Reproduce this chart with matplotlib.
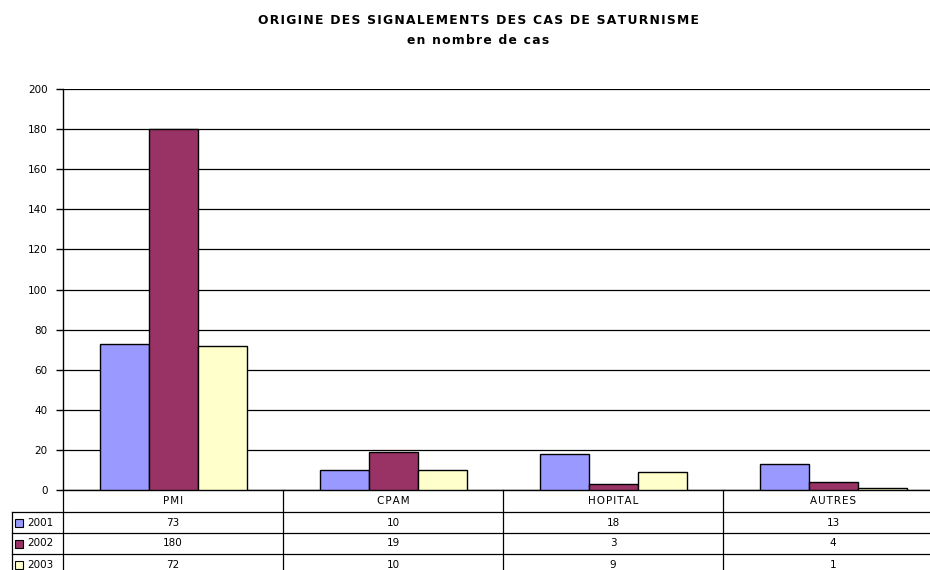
import matplotlib
matplotlib.use("Agg")
import matplotlib.pyplot as plt
from matplotlib.patches import Rectangle
from matplotlib.lines import Line2D
import numpy as np

categories = ["PMI", "CPAM", "HOPITAL", "AUTRES"]
series_names = ["2001", "2002", "2003"]
v2001 = [73, 10, 18, 13]
v2002 = [180, 19, 3, 4]
v2003 = [72, 10, 9, 1]
colors = ["#9999FF", "#993366", "#FFFFCC"]
yticks = [0, 20, 40, 60, 80, 100, 120, 140, 160, 180, 200]

W, H = 930, 570
plt.rcParams['font.family'] = ['DejaVu Sans']
fig = plt.figure(figsize=(W / 100, H / 100), dpi=100)

def fx(px):
    return px / W

def fy(py):
    return 1 - py / H

def spaced(s):
    return "\u200a".join(s)

left, right, top, bottom = 63, 943, 89, 490
ax = fig.add_axes([fx(left), fy(bottom), fx(right) - fx(left), fy(top) - fy(bottom)])

values = [v2001, v2002, v2003]
n = len(categories)
x = np.arange(n)
bw = 49 / 220
for i, (vals, c) in enumerate(zip(values, colors)):
    ax.bar(x + (i - 1) * bw, vals, width=bw, color=c, edgecolor="black", linewidth=1.0, zorder=3)

ax.set_xlim(-0.5, n - 0.5)
ax.set_ylim(0, 200)
ax.set_yticks(yticks)
ax.set_yticklabels([str(t) for t in yticks], fontsize=7.5)
ax.tick_params(axis='y', length=5, width=1, pad=6, direction='out')
ax.set_xticks([])
ax.yaxis.grid(True, color="black", linewidth=0.9, zorder=0)
ax.set_axisbelow(True)
for s in ["top", "right"]:
    ax.spines[s].set_visible(False)
ax.spines["left"].set_linewidth(1)
ax.spines["bottom"].set_linewidth(1)

# Title
fig.text(fx(478), fy(20), spaced("ORIGINE DES SIGNALEMENTS DES CAS DE SATURNISME"), ha="center", va="center",
         fontsize=8.9, fontweight="bold")
fig.text(fx(478), fy(41), spaced("en nombre de cas"), ha="center", va="center", fontsize=8.9, fontweight="bold")

# Data table
rows_y = [490, 512, 533, 554, 575]
col_x = [left + 220 * k for k in range(n + 1)]
legend_left = 12
lw = 0.9
for yy in rows_y[1:]:
    fig.add_artist(Line2D([fx(legend_left), fx(right)], [fy(yy), fy(yy)], color="black", lw=lw))
for xx in col_x:
    fig.add_artist(Line2D([fx(xx), fx(xx)], [fy(490), fy(575)], color="black", lw=lw))
fig.add_artist(Line2D([fx(legend_left), fx(legend_left)], [fy(512), fy(575)], color="black", lw=lw))

for k, cat in enumerate(categories):
    cx = (col_x[k] + col_x[k + 1]) / 2
    fig.text(fx(cx), fy((rows_y[0] + rows_y[1]) / 2), spaced(cat), ha="center", va="center", fontsize=7.5)

for r, (name, vals, c) in enumerate(zip(series_names, values, colors)):
    ymid = (rows_y[r + 1] + rows_y[r + 2]) / 2
    fig.add_artist(Rectangle((fx(15), fy(ymid + 4)), fx(8), fy(ymid - 4) - fy(ymid + 4),
                             facecolor=c, edgecolor="black", lw=0.8, transform=fig.transFigure))
    fig.text(fx(27), fy(ymid), name, ha="left", va="center", fontsize=7.5)
    for k, v in enumerate(vals):
        cx = (col_x[k] + col_x[k + 1]) / 2
        fig.text(fx(cx), fy(ymid), str(v), ha="center", va="center", fontsize=7.5)

fig.savefig("out.png", dpi=100)
